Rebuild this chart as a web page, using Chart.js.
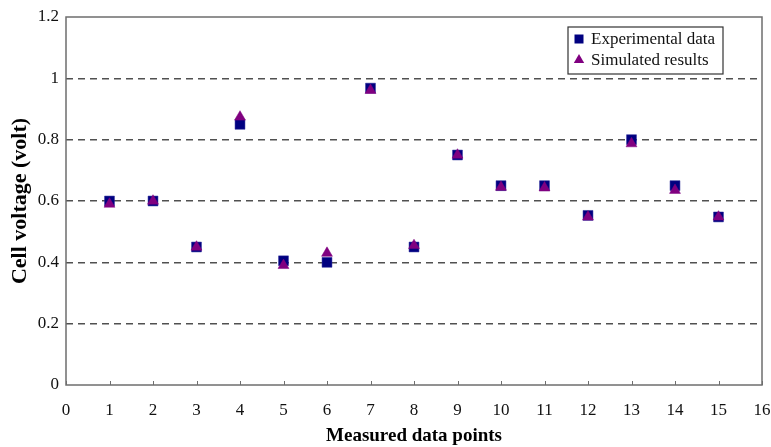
<!DOCTYPE html>
<html>
<head>
<meta charset="utf-8">
<script src="https://cdn.jsdelivr.net/npm/chart.js@4.4.1/dist/chart.umd.min.js"></script>
<style>
    html, body { margin: 0; padding: 0; background: #fff; }
</style>
</head>
<body>
<canvas id="myChart" width="771" height="447"></canvas>
<script>
    var points = [1, 2, 3, 4, 5, 6, 7, 8, 9, 10, 11, 12, 13, 14, 15];
    var experimental = [0.6, 0.6, 0.45, 0.85, 0.405, 0.40, 0.968, 0.45, 0.75, 0.65, 0.65, 0.553, 0.80, 0.65, 0.548];
    var simulated = [0.59, 0.6, 0.45, 0.874, 0.39, 0.43, 0.961, 0.455, 0.75, 0.645, 0.643, 0.548, 0.787, 0.635, 0.548];
    var xTicks = [0, 1, 2, 3, 4, 5, 6, 7, 8, 9, 10, 11, 12, 13, 14, 15, 16];
    var yTicks = [0, 0.2, 0.4, 0.6, 0.8, 1, 1.2];

    var serif = '"Liberation Serif", "Times New Roman", serif';

    function toXY(values) {
        return points.map(function (p, i) { return { x: p, y: values[i] }; });
    }

    // frame round the plot area and small inward ticks on the x axis
    var frame = {
        id: 'frame',
        beforeDatasetsDraw: function (chart) {
            var a = chart.chartArea, ctx = chart.ctx, xs = chart.scales.x;
            ctx.save();
            ctx.strokeStyle = '#6e6e6e';
            ctx.lineWidth = 1.5;
            ctx.strokeRect(a.left, a.top, a.right - a.left, a.bottom - a.top);
            ctx.lineWidth = 1;
            ctx.beginPath();
            xTicks.forEach(function (v) {
                var px = Math.round(xs.getPixelForValue(v)) + 0.5;
                ctx.moveTo(px, a.bottom);
                ctx.lineTo(px, a.bottom - 4);
            });
            ctx.stroke();
            ctx.restore();
        }
    };

    // boxed legend inside the plot, top right
    var boxLegend = {
        id: 'boxLegend',
        afterDraw: function (chart) {
            var a = chart.chartArea, ctx = chart.ctx;
            var left = a.right - 194, top = a.top + 10, w = 155, h = 47;
            ctx.save();
            ctx.fillStyle = '#fff';
            ctx.fillRect(left, top, w, h);
            ctx.strokeStyle = '#333';
            ctx.lineWidth = 1.2;
            ctx.strokeRect(left, top, w, h);
            ctx.font = '17px ' + serif;
            ctx.textBaseline = 'middle';
            var sets = [chart.data.datasets[1], chart.data.datasets[0]];
            sets.forEach(function (ds, i) {
                var cy = top + 12 + i * 21, cx = left + 11;
                ctx.fillStyle = ds.backgroundColor;
                ctx.beginPath();
                if (ds.pointStyle === 'rect') {
                    ctx.rect(cx - 4.5, cy - 4.5, 9, 9);
                } else {
                    ctx.moveTo(cx, cy - 6);
                    ctx.lineTo(cx + 5.2, cy + 3);
                    ctx.lineTo(cx - 5.2, cy + 3);
                    ctx.closePath();
                }
                ctx.fill();
                ctx.fillStyle = '#111';
                ctx.fillText(ds.label, left + 23, cy + 1);
            });
            ctx.restore();
        }
    };

    var ctx = document.getElementById('myChart').getContext('2d');
    var chart = new Chart(ctx, {
        type: 'scatter',
        data: {
            datasets: [{
                    label: 'Simulated results',
                    data: toXY(simulated),
                    pointStyle: 'triangle',
                    pointRadius: 6.3,
                    pointHoverRadius: 6.3,
                    backgroundColor: '#800080',
                    borderColor: '#800080',
                    borderWidth: 0.5
                },
                {
                    label: 'Experimental data',
                    data: toXY(experimental),
                    pointStyle: 'rect',
                    pointRadius: 7,
                    pointHoverRadius: 7,
                    backgroundColor: '#000080',
                    borderColor: '#2a2a9a',
                    borderWidth: 0.5
                }
            ]
        },
        options: {
            responsive: false,
            animation: false,
            devicePixelRatio: 1,
            layout: {
                padding: { top: 17, right: 9, left: 0, bottom: 0 }
            },
            plugins: {
                legend: { display: false },
                tooltip: { enabled: false }
            },
            scales: {
                x: {
                    type: 'linear',
                    min: 0,
                    max: 16,
                    afterFit: function (scale) {
                        scale.height = 62;
                        scale.paddingRight = 0;
                        scale.paddingLeft = 0;
                    },
                    afterBuildTicks: function (scale) {
                        scale.ticks = xTicks.map(function (v) { return { value: v }; });
                    },
                    grid: { display: false, drawTicks: false },
                    border: { display: false },
                    ticks: {
                        padding: 15,
                        color: '#111',
                        font: { family: serif, size: 17 },
                        maxRotation: 0,
                        autoSkip: false
                    },
                    title: {
                        display: true,
                        text: 'Measured data points',
                        color: '#000',
                        padding: { top: 0, bottom: 0 },
                        font: { family: serif, size: 19, weight: 'bold' }
                    }
                },
                y: {
                    type: 'linear',
                    min: 0,
                    max: 1.2,
                    afterFit: function (scale) {
                        scale.width = 66;
                        scale.paddingTop = 0;
                        scale.paddingBottom = 0;
                    },
                    afterBuildTicks: function (scale) {
                        scale.ticks = yTicks.map(function (v) { return { value: v }; });
                    },
                    grid: {
                        drawTicks: false,
                        color: function (c) {
                            var v = c.tick ? c.tick.value : 0;
                            return (v <= 0 || v >= 1.2) ? 'rgba(0,0,0,0)' : '#505050';
                        },
                        lineWidth: 1.5
                    },
                    border: { display: false, dash: [7, 5] },
                    ticks: {
                        padding: 7,
                        color: '#111',
                        font: { family: serif, size: 17 },
                        callback: function (v) { return String(Math.round(v * 10) / 10); }
                    },
                    title: {
                        display: true,
                        text: 'Cell voltage (volt)',
                        color: '#000',
                        padding: { top: 7, bottom: 0 },
                        font: { family: serif, size: 22, weight: 'bold' }
                    }
                }
            }
        },
        plugins: [frame, boxLegend]
    });
</script>
</body>
</html>
